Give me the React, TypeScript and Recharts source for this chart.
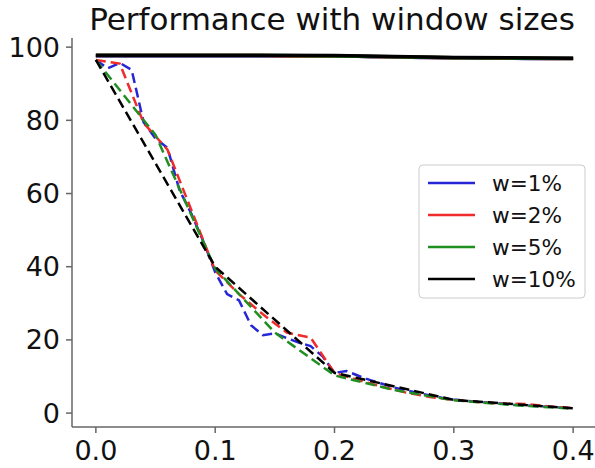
import React from "react";
import { LineChart, Line, XAxis, YAxis } from "recharts";

// x grids for each window size
const xs1 = [
  0, 0.01, 0.02, 0.03, 0.04, 0.05, 0.06, 0.07, 0.08, 0.09,
  0.1, 0.11, 0.12, 0.13, 0.14, 0.15, 0.16, 0.17, 0.18, 0.19,
  0.2, 0.21, 0.22, 0.23, 0.24, 0.25, 0.26, 0.27, 0.28, 0.29,
  0.3, 0.31, 0.32, 0.33, 0.34, 0.35, 0.36, 0.37, 0.38, 0.39, 0.4,
];
const xs2 = [
  0, 0.02, 0.04, 0.06, 0.08, 0.1, 0.12, 0.14, 0.16, 0.18,
  0.2, 0.22, 0.24, 0.26, 0.28, 0.3, 0.32, 0.34, 0.36, 0.38, 0.4,
];
const xs5 = [0, 0.05, 0.1, 0.15, 0.2, 0.25, 0.3, 0.35, 0.4];
const xs10 = [0, 0.1, 0.2, 0.3, 0.4];

// dashed curves (dropping)
const dash1 = [
  96.5, 94.2, 95.7, 93.8, 79.5, 75, 72.5, 61, 54.5, 47,
  38.5, 32.5, 30.8, 24, 21.3, 21.8, 20.5, 19.3, 18.3, 15.5,
  11, 11.5, 10.2, 9, 8, 7, 6.2, 5.5, 4.8, 4.2,
  3.7, 3.4, 3.1, 2.8, 2.6, 2.3, 2.1, 1.9, 1.7, 1.5, 1.3,
];
const dash2 = [
  96.5, 95.5, 79.3, 72, 55.5, 39, 32.5, 27, 22, 20.6,
  11, 9, 7.2, 5.6, 4.4, 3.6, 3, 2.6, 2.5, 1.8, 1.3,
];
const dash5 = [96.5, 76, 39.5, 22, 10.3, 6.3, 3.5, 2.2, 1.2];
const dash10 = [96.5, 40, 11, 3.6, 1.3];

// solid curves (flat near the top)
const solid1 = [
  97.6, 97.6, 97.6, 97.6, 97.6, 97.6, 97.6, 97.6, 97.6, 97.6,
  97.6, 97.6, 97.6, 97.6, 97.6, 97.6, 97.6, 97.6, 97.6, 97.6,
  97.5, 97.5, 97.5, 97.4, 97.4, 97.3, 97.3, 97.2, 97.2, 97.1,
  97.1, 97.1, 97.0, 97.0, 97.0, 97.0, 96.9, 96.9, 96.9, 96.9, 96.9,
];
const solid2 = [
  97.7, 97.7, 97.7, 97.7, 97.7, 97.7, 97.7, 97.7, 97.6, 97.6,
  97.6, 97.5, 97.4, 97.3, 97.2, 97.1, 97.1, 97.0, 97.0, 96.9, 96.9,
];
const solid5 = [97.7, 97.7, 97.7, 97.7, 97.6, 97.4, 97.1, 97.0, 96.9];
const solid10 = [97.8, 97.8, 97.7, 97.2, 97.0];

const xTicks = [0, 0.1, 0.2, 0.3, 0.4];
const yTicks = [0, 20, 40, 60, 80, 100];

const series = [
  { name: "w=1%", color: "#2626d6", xs: xs1, solid: solid1, dashed: dash1 },
  { name: "w=2%", color: "#f02b2b", xs: xs2, solid: solid2, dashed: dash2 },
  { name: "w=5%", color: "#1f8f1f", xs: xs5, solid: solid5, dashed: dash5 },
  { name: "w=10%", color: "#000000", xs: xs10, solid: solid10, dashed: dash10 },
];

const pts = (xs: number[], ys: number[]) => xs.map((x, i) => ({ x, y: ys[i] }));

const FONT = "DejaVu Sans, sans-serif";
const AXIS = "#666";

export default function App() {
  return (
    <div style={{ position: "absolute", left: 0, top: 0, width: 595, height: 468, overflow: "hidden", background: "#fff", fontFamily: FONT }}>
      <LineChart width={597} height={468} margin={{ top: 38, right: 0, bottom: 0, left: 0 }}>
        <XAxis
          xAxisId="b"
          dataKey="x"
          type="number"
          domain={[-0.02, 0.42]}
          ticks={xTicks}
          allowDataOverflow
          height={41}
          tickSize={6}
          tickMargin={8}
          stroke={AXIS}
          strokeWidth={1.5}
          tickFormatter={(v: number) => v.toFixed(1)}
          tick={{ fill: "#111", fontSize: 27, fontFamily: FONT }}
        />
        <XAxis
          xAxisId="t"
          orientation="top"
          type="number"
          domain={[-0.02, 0.42]}
          height={0}
          tick={false}
          tickLine={false}
          stroke={AXIS}
          strokeWidth={1.5}
        />
        <YAxis
          type="number"
          domain={[-3.8, 102.5]}
          ticks={yTicks}
          allowDataOverflow
          width={72}
          tickSize={6}
          tickMargin={6}
          stroke={AXIS}
          strokeWidth={1.5}
          tick={{ fill: "#111", fontSize: 27, fontFamily: FONT }}
        />
        {series.map((s) => (
          <Line
            key={s.name + "-d"}
            xAxisId="b"
            data={pts(s.xs, s.dashed)}
            dataKey="y"
            type="linear"
            stroke={s.color}
            strokeWidth={2.5}
            strokeDasharray="10 5"
            dot={false}
            activeDot={false}
            isAnimationActive={false}
          />
        ))}
        {series.map((s) => (
          <Line
            key={s.name + "-s"}
            xAxisId="b"
            data={pts(s.xs, s.solid)}
            dataKey="y"
            type="linear"
            stroke={s.color}
            strokeWidth={3.5}
            dot={false}
            activeDot={false}
            isAnimationActive={false}
          />
        ))}
      </LineChart>
      <svg width={595} height={468} style={{ position: "absolute", left: 0, top: 0, pointerEvents: "none" }}>
        <text x={332} y={30} textAnchor="middle" fontSize={31} fontFamily={FONT} fill="#111">
          Performance with window sizes
        </text>
        <rect x={419} y={165} width={166} height={133} rx={4} fill="rgba(255,255,255,0.85)" stroke="#ccc" strokeWidth={1} />
        {series.map((s, i) => {
          const cy = 183 + i * 32;
          return (
            <g key={s.name}>
              <line x1={428} x2={475} y1={cy} y2={cy} stroke={s.color} strokeWidth={2.5} />
              <text x={492} y={cy + 7.8} fontSize={21.6} fontFamily={FONT} fill="#111">
                {s.name}
              </text>
            </g>
          );
        })}
      </svg>
    </div>
  );
}
